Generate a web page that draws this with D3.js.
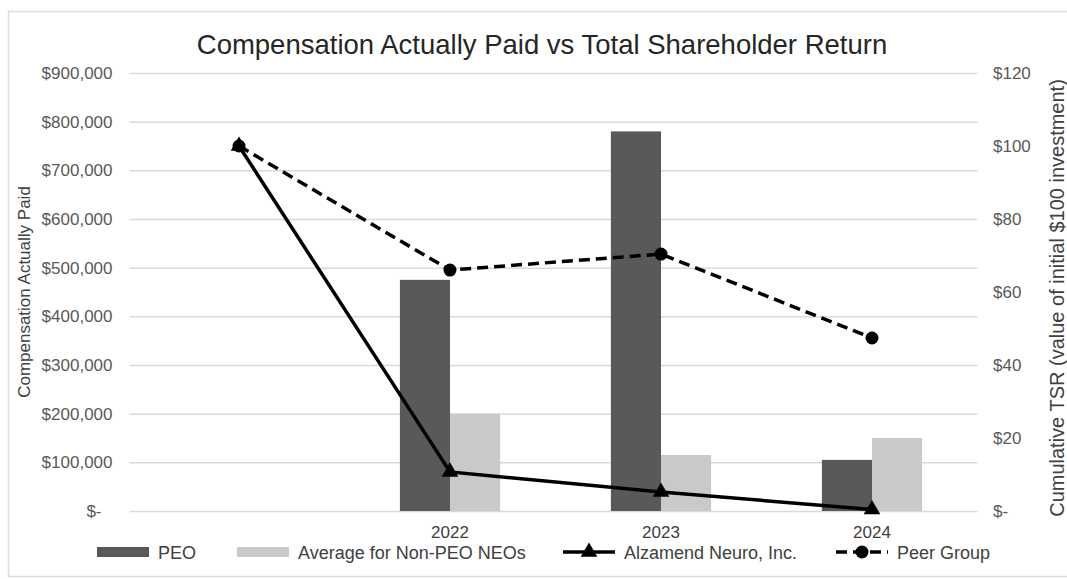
<!DOCTYPE html>
<html><head><meta charset="utf-8">
<script src="https://cdn.jsdelivr.net/npm/d3@7"></script>
<style>body{margin:0;background:#fff} text{font-family:"Liberation Sans", Arial, sans-serif}</style>
</head><body><svg id="c" width="1067" height="579"></svg>
<script>
const categories = ["", "2022", "2023", "2024"];
const peoValues = [null, 475000, 780000, 105000];
const nonPeoValues = [null, 200000, 115000, 150000];
const alzamendTSR = [100, 10.7, 5.2, 0.4];
const peerGroupTSR = [100, 66.0, 70.4, 47.4];
const leftTicks = [0, 100000, 200000, 300000, 400000, 500000, 600000, 700000, 800000, 900000];
const rightTicks = [0, 20, 40, 60, 80, 100, 120];
const seriesNames = ["PEO", "Average for Non-PEO NEOs", "Alzamend Neuro, Inc.", "Peer Group"];

const W = 1067, H = 579;
const m = {left: 133.5, right: 977.5, top: 73, bottom: 511};
const svg = d3.select("#c");

svg.append("rect").attr("x", 8.5).attr("y", 11.5).attr("width", 1080).attr("height", 565)
  .attr("fill", "#fff").attr("stroke", "#dcdcdc").attr("stroke-width", 1.5);

const x = d3.scaleBand().domain(categories).range([m.left, m.right]).padding(0);
const bw = x.bandwidth();
const groupW = bw * 0.475;
const xs = d3.scaleBand().domain(["peo", "non"]).range([bw / 2 - groupW / 2, bw / 2 + groupW / 2]).padding(0);
const y = d3.scaleLinear().domain([0, 900000]).range([m.bottom, m.top]);
const y2 = d3.scaleLinear().domain([0, 120]).range([m.bottom, m.top]);

// left axis + gridlines
const gl = svg.append("g").attr("transform", `translate(${m.left},0)`)
  .call(d3.axisLeft(y).tickValues(leftTicks).tickSize(-(m.right - m.left)).tickPadding(21)
    .tickFormat(v => v === 0 ? "$-" : "$" + d3.format(",")(v)));
gl.select(".domain").remove();
gl.selectAll(".tick line").attr("stroke", "#d9d9d9").attr("stroke-width", 1.5).attr("x1", -4);
gl.selectAll(".tick text").attr("fill", "#595959").attr("font-size", 17)
  .attr("dx", v => v === 0 ? -11 : 0);

// right axis
const gr = svg.append("g").attr("transform", `translate(${m.right},0)`)
  .call(d3.axisRight(y2).tickValues(rightTicks).tickSize(0).tickPadding(15.5)
    .tickFormat(v => v === 0 ? "$-" : "$" + v));
gr.select(".domain").remove();
gr.selectAll(".tick text").attr("fill", "#595959").attr("font-size", 17);

// x axis
const gx = svg.append("g").attr("transform", `translate(0,${m.bottom})`)
  .call(d3.axisBottom(x).tickSize(0).tickPadding(15));
gx.select(".domain").remove();
gx.selectAll(".tick text").attr("fill", "#404040").attr("font-size", 17);

// bars
const bars = svg.append("g");
categories.forEach((c, i) => {
  if (peoValues[i] != null)
    bars.append("rect").attr("x", x(c) + xs("peo")).attr("width", xs.bandwidth())
      .attr("y", y(peoValues[i])).attr("height", y(0) - y(peoValues[i])).attr("fill", "#595959");
  if (nonPeoValues[i] != null)
    bars.append("rect").attr("x", x(c) + xs("non")).attr("width", xs.bandwidth())
      .attr("y", y(nonPeoValues[i])).attr("height", y(0) - y(nonPeoValues[i])).attr("fill", "#c9c9c9");
});

// lines
const cx = i => x(categories[i]) + bw / 2;
const line = d3.line().x((d, i) => cx(i)).y(d => y2(d));
svg.append("path").datum(peerGroupTSR).attr("d", line).attr("fill", "none")
  .attr("stroke", "#000").attr("stroke-width", 3.5).attr("stroke-dasharray", "11,6");
svg.append("g").selectAll("circle").data(peerGroupTSR).join("circle")
  .attr("cx", (d, i) => cx(i)).attr("cy", d => y2(d)).attr("r", 6.5).attr("fill", "#000");
svg.append("path").datum(alzamendTSR).attr("d", line).attr("fill", "none")
  .attr("stroke", "#000").attr("stroke-width", 3.5);
const tri = d3.symbol().type(d3.symbolTriangle).size(120);
svg.append("g").selectAll("path").data(alzamendTSR).join("path")
  .attr("d", tri).attr("transform", (d, i) => `translate(${cx(i)},${y2(d)})`).attr("fill", "#000");

// title
svg.append("text").attr("x", 542).attr("y", 54).attr("text-anchor", "middle")
  .attr("font-size", 27.5).attr("fill", "#262626")
  .text("Compensation Actually Paid vs Total Shareholder Return");

// axis titles
svg.append("text").attr("transform", `translate(30,${(m.top + m.bottom) / 2}) rotate(-90)`)
  .attr("text-anchor", "middle").attr("font-size", 17).attr("fill", "#404040")
  .text("Compensation Actually Paid");
svg.append("text").attr("transform", `translate(1064,298) rotate(-90)`)
  .attr("text-anchor", "middle").attr("font-size", 20).attr("fill", "#404040")
  .text("Cumulative TSR (value of initial $100 investment)");

// legend
const ly = 552;
const legendX = [97, 237, 563, 836];
const lg = svg.append("g");
seriesNames.forEach((name, i) => {
  const lx = legendX[i];
  if (i < 2) {
    lg.append("rect").attr("x", lx).attr("y", ly - 5).attr("width", 52).attr("height", 10)
      .attr("fill", i === 0 ? "#595959" : "#c9c9c9");
  } else {
    lg.append("line").attr("x1", lx).attr("x2", lx + 52).attr("y1", ly).attr("y2", ly)
      .attr("stroke", "#000").attr("stroke-width", 3.5)
      .attr("stroke-dasharray", i === 3 ? "11,6" : null);
    if (i === 2) lg.append("path").attr("d", tri).attr("transform", `translate(${lx + 26},${ly})`);
    else lg.append("circle").attr("cx", lx + 26).attr("cy", ly).attr("r", 6.5);
  }
  lg.append("text").attr("x", lx + 61).attr("y", ly + 7).attr("font-size", 18).attr("fill", "#404040").text(name);
});
</script></body></html>
